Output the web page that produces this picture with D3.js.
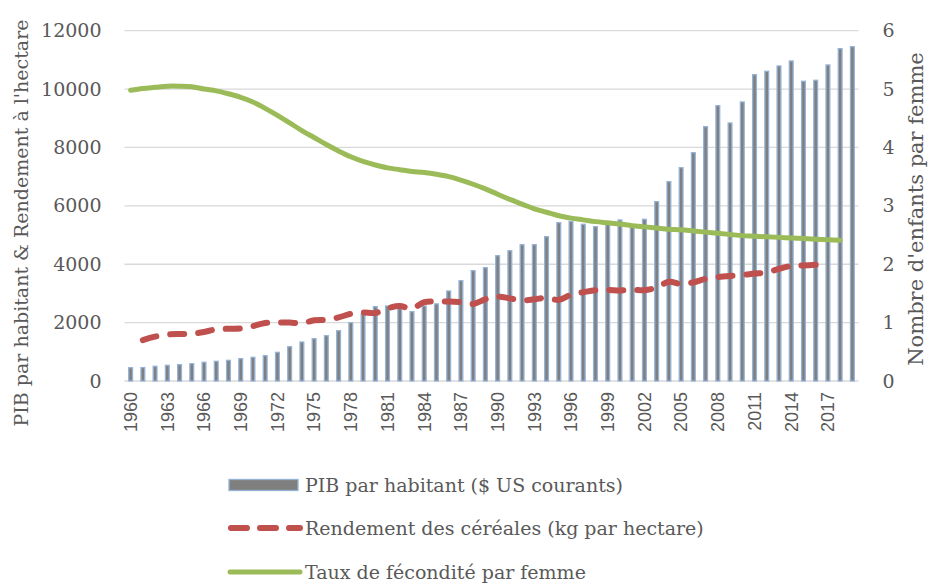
<!DOCTYPE html>
<html>
<head>
<meta charset="utf-8">
<script src="https://cdn.jsdelivr.net/npm/d3@7"></script>
<style>
  body { margin: 0; background: #fff; }
  .tick text { fill: #595959; }
  .serif { font-family: "DejaVu Serif", serif; }
</style>
</head>
<body>
<svg id="chart" width="930" height="584"></svg>
<script>
'use strict';

// years 1960 - 2019
const years = d3.range(1960, 2020);

// PIB par habitant ($ US courants)
const gdp = [
    456, 460, 503, 537, 560, 593, 640, 674, 708, 765,
    811, 868, 982, 1176, 1336, 1450, 1553, 1724, 2000, 2300,
    2546, 2570, 2490, 2375, 2570, 2640, 3083, 3437, 3780, 3882,
    4293, 4464, 4670, 4670, 4944, 5424, 5470, 5368, 5287, 5400,
    5516, 5287, 5540, 6143, 6828, 7308, 7822, 8713, 9432, 8839,
    9559, 10494, 10610, 10792, 10963, 10268, 10302, 10826, 11385, 11453
];

// Rendement des céréales (kg par hectare), 1961 - 2016
const cereal = [
    null, 1400, 1520, 1590, 1610, 1620, 1680, 1770, 1790, 1800,
    1880, 1990, 2000, 2000, 1980, 2080, 2100, 2180, 2300, 2350,
    2330, 2490, 2570, 2480, 2700, 2720, 2720, 2700, 2640, 2800,
    2890, 2830, 2760, 2800, 2850, 2780, 2960, 3040, 3110, 3120,
    3100, 3130, 3110, 3200, 3400, 3320, 3380, 3500, 3560, 3600,
    3630, 3680, 3720, 3840, 3940, 3960, 3980, null, null, null
];

// Taux de fécondité par femme, 1960 - 2018
const fertility = [
    4.98, 5.01, 5.03, 5.05, 5.05, 5.04, 5.00, 4.97, 4.92, 4.86,
    4.78, 4.67, 4.55, 4.42, 4.29, 4.17, 4.05, 3.94, 3.84, 3.76,
    3.70, 3.65, 3.62, 3.59, 3.57, 3.54, 3.50, 3.44, 3.37, 3.29,
    3.20, 3.11, 3.03, 2.95, 2.89, 2.83, 2.79, 2.76, 2.73, 2.71,
    2.69, 2.66, 2.64, 2.62, 2.60, 2.59, 2.57, 2.55, 2.53, 2.51,
    2.49, 2.48, 2.47, 2.46, 2.45, 2.44, 2.43, 2.42, 2.41, null
];

const leftTicks = [0, 2000, 4000, 6000, 8000, 10000, 12000];
const rightTicks = [0, 1, 2, 3, 4, 5, 6];
const xTickYears = years.filter((y) => (y - 1960) % 3 === 0);

const legendItems = [
    { key: "bar", label: "PIB par habitant ($ US courants)" },
    { key: "cereal", label: "Rendement des céréales (kg par hectare)" },
    { key: "fert", label: "Taux de fécondité par femme" }
];

const COLORS = { barFill: "#7f7f7f", barStroke: "#95b3d7", cereal: "#c0504d", fert: "#9bbb59", grid: "#d9d9d9", text: "#595959" };
const MARGIN = { top: 30.7, left: 124.5, bottom: 203, right: 71.5 };
const FONT_SIZE = { tick: 19, title: 19, rightTitle: 21, legend: 19, year: 18 };
const W = 930, H = 584;

const svg = d3.select("#chart");

const x = d3.scaleBand()
    .domain(years)
    .range([MARGIN.left, W - MARGIN.right]);

const yLeft = d3.scaleLinear()
    .domain([0, 12000])
    .range([H - MARGIN.bottom, MARGIN.top]);

const yRight = d3.scaleLinear()
    .domain([0, 6])
    .range([H - MARGIN.bottom, MARGIN.top]);

const cx = (i) => x(years[i]) + x.bandwidth() / 2;

// gridlines
svg.append("g")
    .selectAll("line")
    .data(leftTicks)
    .join("line")
    .attr("x1", MARGIN.left)
    .attr("x2", W - MARGIN.right)
    .attr("y1", (d) => yLeft(d))
    .attr("y2", (d) => yLeft(d))
    .attr("stroke", COLORS.grid)
    .attr("stroke-width", 1.3);

// left axis
const leftAxis = svg.append("g")
    .attr("transform", `translate(${MARGIN.left},0)`)
    .call(d3.axisLeft(yLeft).tickValues(leftTicks).tickSize(0).tickPadding(23).tickFormat(d3.format("d")));
leftAxis.select(".domain").remove();
leftAxis.selectAll("text")
    .attr("class", "serif")
    .attr("font-size", FONT_SIZE.tick);

// right axis
const rightAxis = svg.append("g")
    .attr("transform", `translate(${W - MARGIN.right},0)`)
    .call(d3.axisRight(yRight).tickValues(rightTicks).tickSize(0).tickPadding(24).tickFormat(d3.format("d")));
rightAxis.select(".domain").remove();
rightAxis.selectAll("text")
    .attr("class", "serif")
    .attr("font-size", FONT_SIZE.tick);

// x axis: years rotated
const xAxis = svg.append("g")
    .attr("transform", `translate(0,${H - MARGIN.bottom})`)
    .call(d3.axisBottom(x).tickValues(xTickYears).tickSize(0));
xAxis.select(".domain").remove();
xAxis.selectAll("text")
    .attr("font-family", "'Liberation Sans', Arial, sans-serif")
    .attr("font-size", FONT_SIZE.year)
    .attr("transform", "rotate(-90)")
    .attr("text-anchor", "end")
    .attr("dx", "-11")
    .attr("dy", "0.35em")
    .attr("y", 0);

// bars
svg.append("g")
    .selectAll("rect")
    .data(gdp)
    .join("rect")
    .attr("x", (d, i) => cx(i) - 1.9)
    .attr("width", 3.8)
    .attr("y", (d) => yLeft(d))
    .attr("height", (d) => yLeft(0) - yLeft(d))
    .attr("fill", COLORS.barFill)
    .attr("stroke", COLORS.barStroke)
    .attr("stroke-width", 1.3);

// cereal yield (dashed)
const cerealLine = d3.line()
    .defined((d) => d !== null)
    .x((d, i) => cx(i))
    .y((d) => yLeft(d))
    .curve(d3.curveCatmullRom.alpha(0.5));

svg.append("path")
    .datum(cereal)
    .attr("d", cerealLine)
    .attr("fill", "none")
    .attr("stroke", COLORS.cereal)
    .attr("stroke-width", 6)
    .attr("stroke-linecap", "round")
    .attr("stroke-dasharray", "14,14");

// fertility
const fertLine = d3.line()
    .defined((d) => d !== null)
    .x((d, i) => cx(i))
    .y((d) => yRight(d))
    .curve(d3.curveCatmullRom.alpha(0.5));

svg.append("path")
    .datum(fertility)
    .attr("d", fertLine)
    .attr("fill", "none")
    .attr("stroke", COLORS.fert)
    .attr("stroke-width", 5)
    .attr("stroke-linecap", "round");

// axis titles
svg.append("text")
    .attr("class", "serif")
    .attr("font-size", FONT_SIZE.title)
    .attr("fill", COLORS.text)
    .attr("text-anchor", "middle")
    .attr("transform", "translate(28,223) rotate(-90)")
    .text("PIB par habitant & Rendement à l'hectare");

svg.append("text")
    .attr("class", "serif")
    .attr("font-size", FONT_SIZE.rightTitle)
    .attr("fill", COLORS.text)
    .attr("text-anchor", "middle")
    .attr("transform", "translate(923,209) rotate(-90)")
    .text("Nombre d'enfants par femme");

// legend
const legend = svg.append("g").attr("transform", "translate(228,0)");
const rowY = [485, 528, 572];

legendItems.forEach((item, i) => {
    const g = legend.append("g").attr("transform", `translate(0,${rowY[i]})`);
    if (item.key === "bar") {
        g.append("rect")
            .attr("x", 1)
            .attr("y", -5.5)
            .attr("width", 69)
            .attr("height", 11)
            .attr("fill", COLORS.barFill)
            .attr("stroke", COLORS.barStroke)
            .attr("stroke-width", 1.3);
    } else if (item.key === "cereal") {
        g.append("line")
            .attr("x1", 3).attr("x2", 72)
            .attr("stroke", COLORS.cereal)
            .attr("stroke-width", 6)
            .attr("stroke-linecap", "round")
            .attr("stroke-dasharray", "16,13");
    } else {
        g.append("line")
            .attr("x1", 2).attr("x2", 72)
            .attr("stroke", COLORS.fert)
            .attr("stroke-width", 5)
            .attr("stroke-linecap", "round");
    }
    g.append("text")
        .attr("class", "serif")
        .attr("x", 77)
        .attr("dy", "0.35em")
        .attr("font-size", FONT_SIZE.legend)
        .attr("fill", COLORS.text)
        .text(item.label);
});
</script>
</body>
</html>
